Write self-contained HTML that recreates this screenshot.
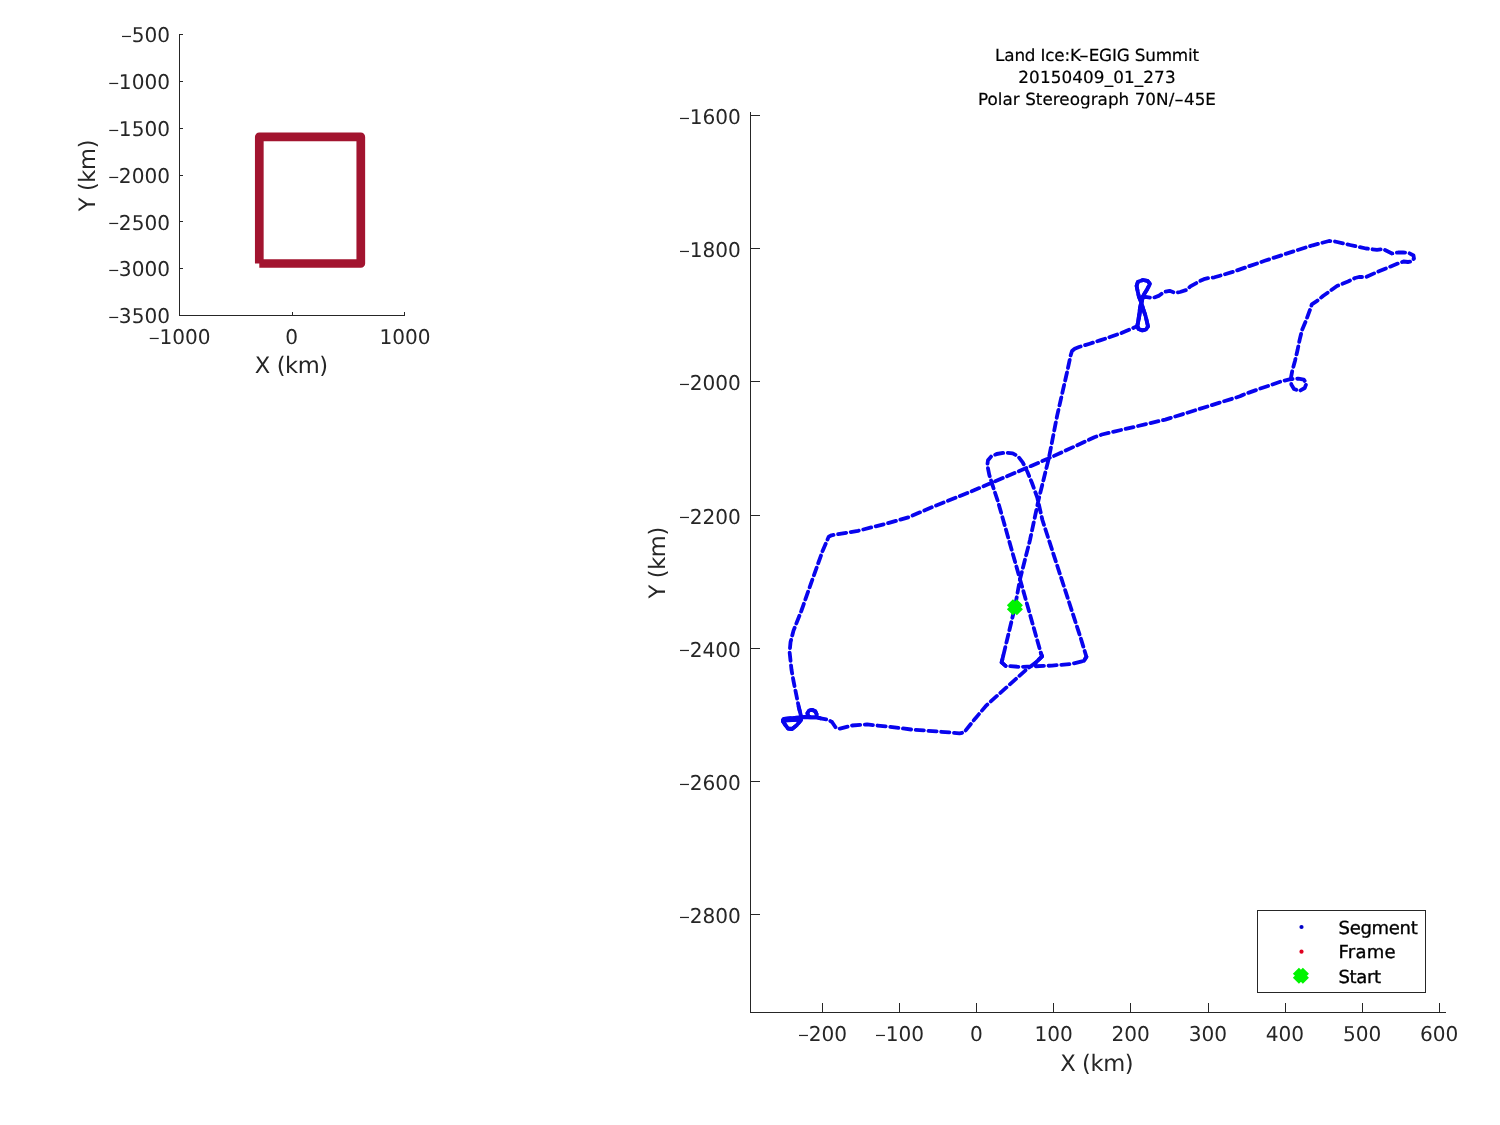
<!DOCTYPE html>
<html lang="en"><head><meta charset="utf-8"><title>Land Ice:K-EGIG Summit 20150409_01_273</title>
<style>
html,body{margin:0;padding:0;background:#fff;}
body{width:1500px;height:1125px;position:relative;overflow:hidden;font-family:"DejaVu Sans", "Liberation Sans", sans-serif;}
svg text{white-space:pre;}
</style></head><body>
<svg width="1500" height="1125" viewBox="0 0 1500 1125" text-rendering="geometricPrecision" style="position:absolute;left:0;top:0">
<g stroke="#262626" stroke-width="1" fill="none" shape-rendering="crispEdges">
<path d="M179.5 34.0 V315.5 H405.0"/>
<path d="M179.5 34.5 h3.5"/>
<path d="M179.5 81.5 h3.5"/>
<path d="M179.5 128.5 h3.5"/>
<path d="M179.5 175.5 h3.5"/>
<path d="M179.5 221.5 h3.5"/>
<path d="M179.5 268.5 h3.5"/>
<path d="M179.5 315.5 h3.5"/>
<path d="M292.5 315.5 v-3.5"/>
<path d="M404.5 315.5 v-3.5"/>
<path d="M750.5 112.0 V1012.5 H1446.0"/>
<path d="M750.5 115.5 h9.5"/>
<path d="M750.5 248.5 h9.5"/>
<path d="M750.5 381.5 h9.5"/>
<path d="M750.5 515.5 h9.5"/>
<path d="M750.5 648.5 h9.5"/>
<path d="M750.5 781.5 h9.5"/>
<path d="M750.5 914.5 h9.5"/>
<path d="M822.5 1012.5 v-9.5"/>
<path d="M899.5 1012.5 v-9.5"/>
<path d="M976.5 1012.5 v-9.5"/>
<path d="M1053.5 1012.5 v-9.5"/>
<path d="M1130.5 1012.5 v-9.5"/>
<path d="M1208.5 1012.5 v-9.5"/>
<path d="M1285.5 1012.5 v-9.5"/>
<path d="M1362.5 1012.5 v-9.5"/>
<path d="M1439.5 1012.5 v-9.5"/>
</g>
<path d="M259.3 263.5 H360.8 V136.9 H259.3 V263.5" fill="none" stroke="#a2142f" stroke-width="8.7" stroke-linejoin="round" stroke-linecap="butt"/>
<path d="M1074.7 348.7 L1072.0 351.0 L1070.7 355.3 L1067.3 371.1 L1057.1 415.9 L1048.7 458.8 L1038.4 500.5 L1030.0 540.0 L1020.0 579.2 L1014.9 607.2 L1003.2 656.0 L1001.6 662.4 L1005.6 665.9 L1020.0 666.9 L1052.0 665.6 L1071.2 664.0 L1084.0 660.8 L1086.4 656.8 L1080.8 638.4 L1042.4 520.0 L1037.3 497.7 L1032.0 483.0 L1027.3 471.5 L1022.7 462.3 L1018.0 456.3 L1012.7 453.3 L1004.7 452.7 L996.7 454.0 L991.3 456.3 L988.0 460.3 L987.3 465.0 L989.3 475.0 L992.7 485.7 L998.0 501.7 L1003.2 520.0 L1020.0 579.2 L1040.8 652.8 L1042.1 656.3 L1036.0 662.4 L1027.2 668.8 L986.5 705.3 L975.3 718.4 L964.1 732.4 L959.5 733.3 L938.0 731.5 L911.9 729.6 L889.5 726.8 L867.1 724.4 L852.1 725.5 L840.0 728.7 L836.0 728.0 L832.0 722.0 L828.0 719.7 L820.7 718.3 L816.7 717.3 L816.6 714.0 L815.2 711.2 L812.0 709.8 L809.0 710.5 L807.4 713.2 L808.0 716.0 L810.5 717.3 L816.7 717.3 L810.5 717.3 L804.7 717.0 L784.0 718.8 L783.0 720.0 L800.0 719.6 L784.5 720.6 L783.0 721.5 L785.0 724.5 L788.0 728.5 L792.0 729.0 L796.7 725.3 L801.0 720.0 L800.7 714.7 L798.7 706.7 L796.0 693.3 L793.3 680.0 L791.5 669.7 L789.6 652.1 L790.5 642.3 L793.5 630.6 L801.3 611.0 L813.0 577.8 L822.8 550.4 L828.7 536.7 L831.6 535.3 L858.0 530.8 L887.3 523.4 L908.8 517.2 L936.2 505.4 L960.0 496.0 L980.0 487.8 L1047.7 458.8 L1094.4 437.3 L1101.9 434.5 L1165.3 419.6 L1240.0 396.3 L1243.3 394.7 L1259.3 388.9 L1270.0 385.3 L1281.6 381.3 L1290.4 379.1 L1298.4 378.7 L1303.8 379.6 L1306.4 383.6 L1304.7 388.0 L1299.3 391.1 L1294.0 388.9 L1291.3 384.4 L1290.9 378.2 L1292.2 371.1 L1294.9 361.3 L1297.6 349.8 L1299.8 339.1 L1302.0 330.2 L1306.4 319.6 L1310.0 309.8 L1311.8 304.4 L1317.1 300.9 L1323.0 296.0 L1337.0 286.0 L1348.0 281.5 L1355.0 278.0 L1359.0 277.0 L1366.0 277.0 L1376.0 272.5 L1388.0 267.5 L1398.0 263.5 L1403.5 261.5 L1408.0 262.0 L1411.5 261.5 L1414.0 258.5 L1413.5 255.5 L1409.0 253.0 L1403.0 252.5 L1398.0 252.5 L1392.0 253.5 L1383.0 249.0 L1377.0 249.8 L1366.0 248.5 L1350.0 245.0 L1335.0 241.5 L1329.0 241.0 L1312.7 245.3 L1296.7 250.3 L1264.7 260.8 L1232.7 271.9 L1220.0 275.7 L1214.5 277.3 L1208.0 278.2 L1203.9 279.2 L1200.0 281.0 L1190.4 286.4 L1186.4 290.0 L1180.0 292.0 L1175.2 292.8 L1169.6 290.8 L1164.0 292.0 L1159.2 295.6 L1152.8 298.0 L1145.6 296.8 L1142.4 297.0 L1140.0 308.0 L1138.4 320.0 L1137.6 326.0 L1138.5 329.0 L1142.4 330.4 L1146.0 329.5 L1148.0 326.4 L1145.6 316.0 L1143.5 310.0 L1141.6 303.2 L1139.0 297.0 L1137.6 291.0 L1136.6 285.8 L1137.9 281.8 L1143.0 280.0 L1147.4 280.8 L1150.0 283.8 L1147.2 289.2 L1143.0 296.0 L1140.5 308.0 L1139.0 318.0 L1137.0 327.0 L1136.0 326.6 L1131.7 328.7 L1121.0 333.2 L1110.0 337.0 L1100.0 340.4 L1089.7 343.7 L1079.0 347.0 L1074.7 348.7" fill="none" stroke="#0804ee" stroke-width="3.8" stroke-linejoin="round" stroke-linecap="round" stroke-dasharray="8.2 4.6"/>
<path d="M1142.4 297.0 L1140.0 308.0 L1138.4 320.0 L1137.6 326.0 L1138.5 329.0 L1142.4 330.4 L1146.0 329.5 L1148.0 326.4 L1145.6 316.0 L1143.5 310.0 L1141.6 303.2 L1139.0 297.0 L1137.6 291.0 L1136.6 285.8 L1137.9 281.8 L1143.0 280.0 L1147.4 280.8 L1150.0 283.8 L1147.2 289.2 L1143.0 296.0 L1140.5 308.0 L1139.0 318.0 L1137.0 327.0 M820.7 718.3 L816.7 717.3 L816.6 714.0 L815.2 711.2 L812.0 709.8 L809.0 710.5 L807.4 713.2 L808.0 716.0 L810.5 717.3 L816.7 717.3 L810.5 717.3 L804.7 717.0 L784.0 718.8 L783.0 720.0 L800.0 719.6 L784.5 720.6 L783.0 721.5 L785.0 724.5 L788.0 728.5 L792.0 729.0 L796.7 725.3 L801.0 720.0 L800.7 714.7 L798.7 706.7 M1003.2 656.0 L1001.6 662.4 L1005.6 665.9 M1084.0 660.8 L1086.4 656.8 M1040.8 652.8 L1042.1 656.3 L1036.0 662.4" fill="none" stroke="#0804ee" stroke-width="3.8" stroke-linejoin="round" stroke-linecap="round"/>
<path d="M1009.9 602.2 L1019.9 612.2 M1009.9 612.2 L1019.9 602.2" stroke="#00f400" stroke-width="8.6" stroke-linecap="butt" fill="none"/>
<rect x="1257.5" y="910.5" width="168" height="82" fill="#fff" stroke="#262626" stroke-width="1" shape-rendering="crispEdges"/>
<circle cx="1301.5" cy="927" r="2.1" fill="#0000c8"/>
<circle cx="1301.5" cy="951.7" r="2.1" fill="#e00020"/>
<path d="M1295.9 970.8 L1305.9 980.8 M1295.9 980.8 L1305.9 970.8" stroke="#00f400" stroke-width="8.6" stroke-linecap="butt" fill="none"/>
<g font-family='"DejaVu Sans", "Liberation Sans", sans-serif' fill="#262626" font-size="20.4">
<text transform="translate(170.00 42.30) scale(0.985 1)" text-anchor="end"><tspan font-size="14.5" dy="-1.2">−</tspan><tspan dy="1.2" dx="-0.8">500</tspan></text>
<text transform="translate(170.00 89.13) scale(0.985 1)" text-anchor="end"><tspan font-size="14.5" dy="-1.2">−</tspan><tspan dy="1.2" dx="-0.8">1000</tspan></text>
<text transform="translate(170.00 135.97) scale(0.985 1)" text-anchor="end"><tspan font-size="14.5" dy="-1.2">−</tspan><tspan dy="1.2" dx="-0.8">1500</tspan></text>
<text transform="translate(170.00 182.80) scale(0.985 1)" text-anchor="end"><tspan font-size="14.5" dy="-1.2">−</tspan><tspan dy="1.2" dx="-0.8">2000</tspan></text>
<text transform="translate(170.00 229.64) scale(0.985 1)" text-anchor="end"><tspan font-size="14.5" dy="-1.2">−</tspan><tspan dy="1.2" dx="-0.8">2500</tspan></text>
<text transform="translate(170.00 276.47) scale(0.985 1)" text-anchor="end"><tspan font-size="14.5" dy="-1.2">−</tspan><tspan dy="1.2" dx="-0.8">3000</tspan></text>
<text transform="translate(170.00 323.31) scale(0.985 1)" text-anchor="end"><tspan font-size="14.5" dy="-1.2">−</tspan><tspan dy="1.2" dx="-0.8">3500</tspan></text>
<text transform="translate(179.40 344.00) scale(0.985 1)" text-anchor="middle"><tspan font-size="14.5" dy="-1.2">−</tspan><tspan dy="1.2" dx="-0.8">1000</tspan></text>
<text transform="translate(291.60 344.00) scale(0.985 1)" text-anchor="middle">0</text>
<text transform="translate(405.00 344.00) scale(0.985 1)" text-anchor="middle">1000</text>
<text transform="translate(740.90 124.00) scale(0.985 1)" text-anchor="end"><tspan font-size="14.5" dy="-1.2">−</tspan><tspan dy="1.2" dx="-0.8">1600</tspan></text>
<text transform="translate(740.90 257.17) scale(0.985 1)" text-anchor="end"><tspan font-size="14.5" dy="-1.2">−</tspan><tspan dy="1.2" dx="-0.8">1800</tspan></text>
<text transform="translate(740.90 390.33) scale(0.985 1)" text-anchor="end"><tspan font-size="14.5" dy="-1.2">−</tspan><tspan dy="1.2" dx="-0.8">2000</tspan></text>
<text transform="translate(740.90 523.50) scale(0.985 1)" text-anchor="end"><tspan font-size="14.5" dy="-1.2">−</tspan><tspan dy="1.2" dx="-0.8">2200</tspan></text>
<text transform="translate(740.90 656.67) scale(0.985 1)" text-anchor="end"><tspan font-size="14.5" dy="-1.2">−</tspan><tspan dy="1.2" dx="-0.8">2400</tspan></text>
<text transform="translate(740.90 789.84) scale(0.985 1)" text-anchor="end"><tspan font-size="14.5" dy="-1.2">−</tspan><tspan dy="1.2" dx="-0.8">2600</tspan></text>
<text transform="translate(740.90 923.00) scale(0.985 1)" text-anchor="end"><tspan font-size="14.5" dy="-1.2">−</tspan><tspan dy="1.2" dx="-0.8">2800</tspan></text>
<text transform="translate(822.20 1041.00) scale(0.985 1)" text-anchor="middle"><tspan font-size="14.5" dy="-1.2">−</tspan><tspan dy="1.2" dx="-0.8">200</tspan></text>
<text transform="translate(899.33 1041.00) scale(0.985 1)" text-anchor="middle"><tspan font-size="14.5" dy="-1.2">−</tspan><tspan dy="1.2" dx="-0.8">100</tspan></text>
<text transform="translate(976.45 1041.00) scale(0.985 1)" text-anchor="middle">0</text>
<text transform="translate(1053.58 1041.00) scale(0.985 1)" text-anchor="middle">100</text>
<text transform="translate(1130.70 1041.00) scale(0.985 1)" text-anchor="middle">200</text>
<text transform="translate(1207.83 1041.00) scale(0.985 1)" text-anchor="middle">300</text>
<text transform="translate(1284.95 1041.00) scale(0.985 1)" text-anchor="middle">400</text>
<text transform="translate(1362.08 1041.00) scale(0.985 1)" text-anchor="middle">500</text>
<text transform="translate(1439.20 1041.00) scale(0.985 1)" text-anchor="middle">600</text>
</g>
<g font-family='"DejaVu Sans", "Liberation Sans", sans-serif' fill="#262626" font-size="22.6" text-anchor="middle" letter-spacing="-0.4">
<text x="291.3" y="373">X (km)</text>
<text x="1096.7" y="1070.7">X (km)</text>
<text transform="translate(94.7 175.6) rotate(-90)">Y (km)</text>
<text transform="translate(664.7 562.8) rotate(-90)">Y (km)</text>
</g>
<g font-family='"DejaVu Sans", "Liberation Sans", sans-serif' fill="#000" stroke="#000" stroke-width="0.2" font-size="16.8" text-anchor="middle">
<text x="1097" y="61" letter-spacing="-0.17">Land Ice:K<tspan textLength="9.6" lengthAdjust="spacingAndGlyphs">-</tspan>EGIG Summit</text>
<text x="1097" y="83" letter-spacing="0.12">20150409_01_273</text>
<text x="1097" y="105" letter-spacing="0.03">Polar Stereograph 70N/<tspan textLength="9.6" lengthAdjust="spacingAndGlyphs">-</tspan>45E</text>
</g>
<g font-family='"DejaVu Sans", "Liberation Sans", sans-serif' fill="#000" stroke="#000" stroke-width="0.35" font-size="18.0">
<text x="1338.5" y="933.6" letter-spacing="-0.3">Segment</text>
<text x="1338.5" y="958.4" letter-spacing="0.25">Frame</text>
<text x="1338.5" y="982.8" letter-spacing="-0.35">Start</text>
</g>
</svg>
</body></html>
